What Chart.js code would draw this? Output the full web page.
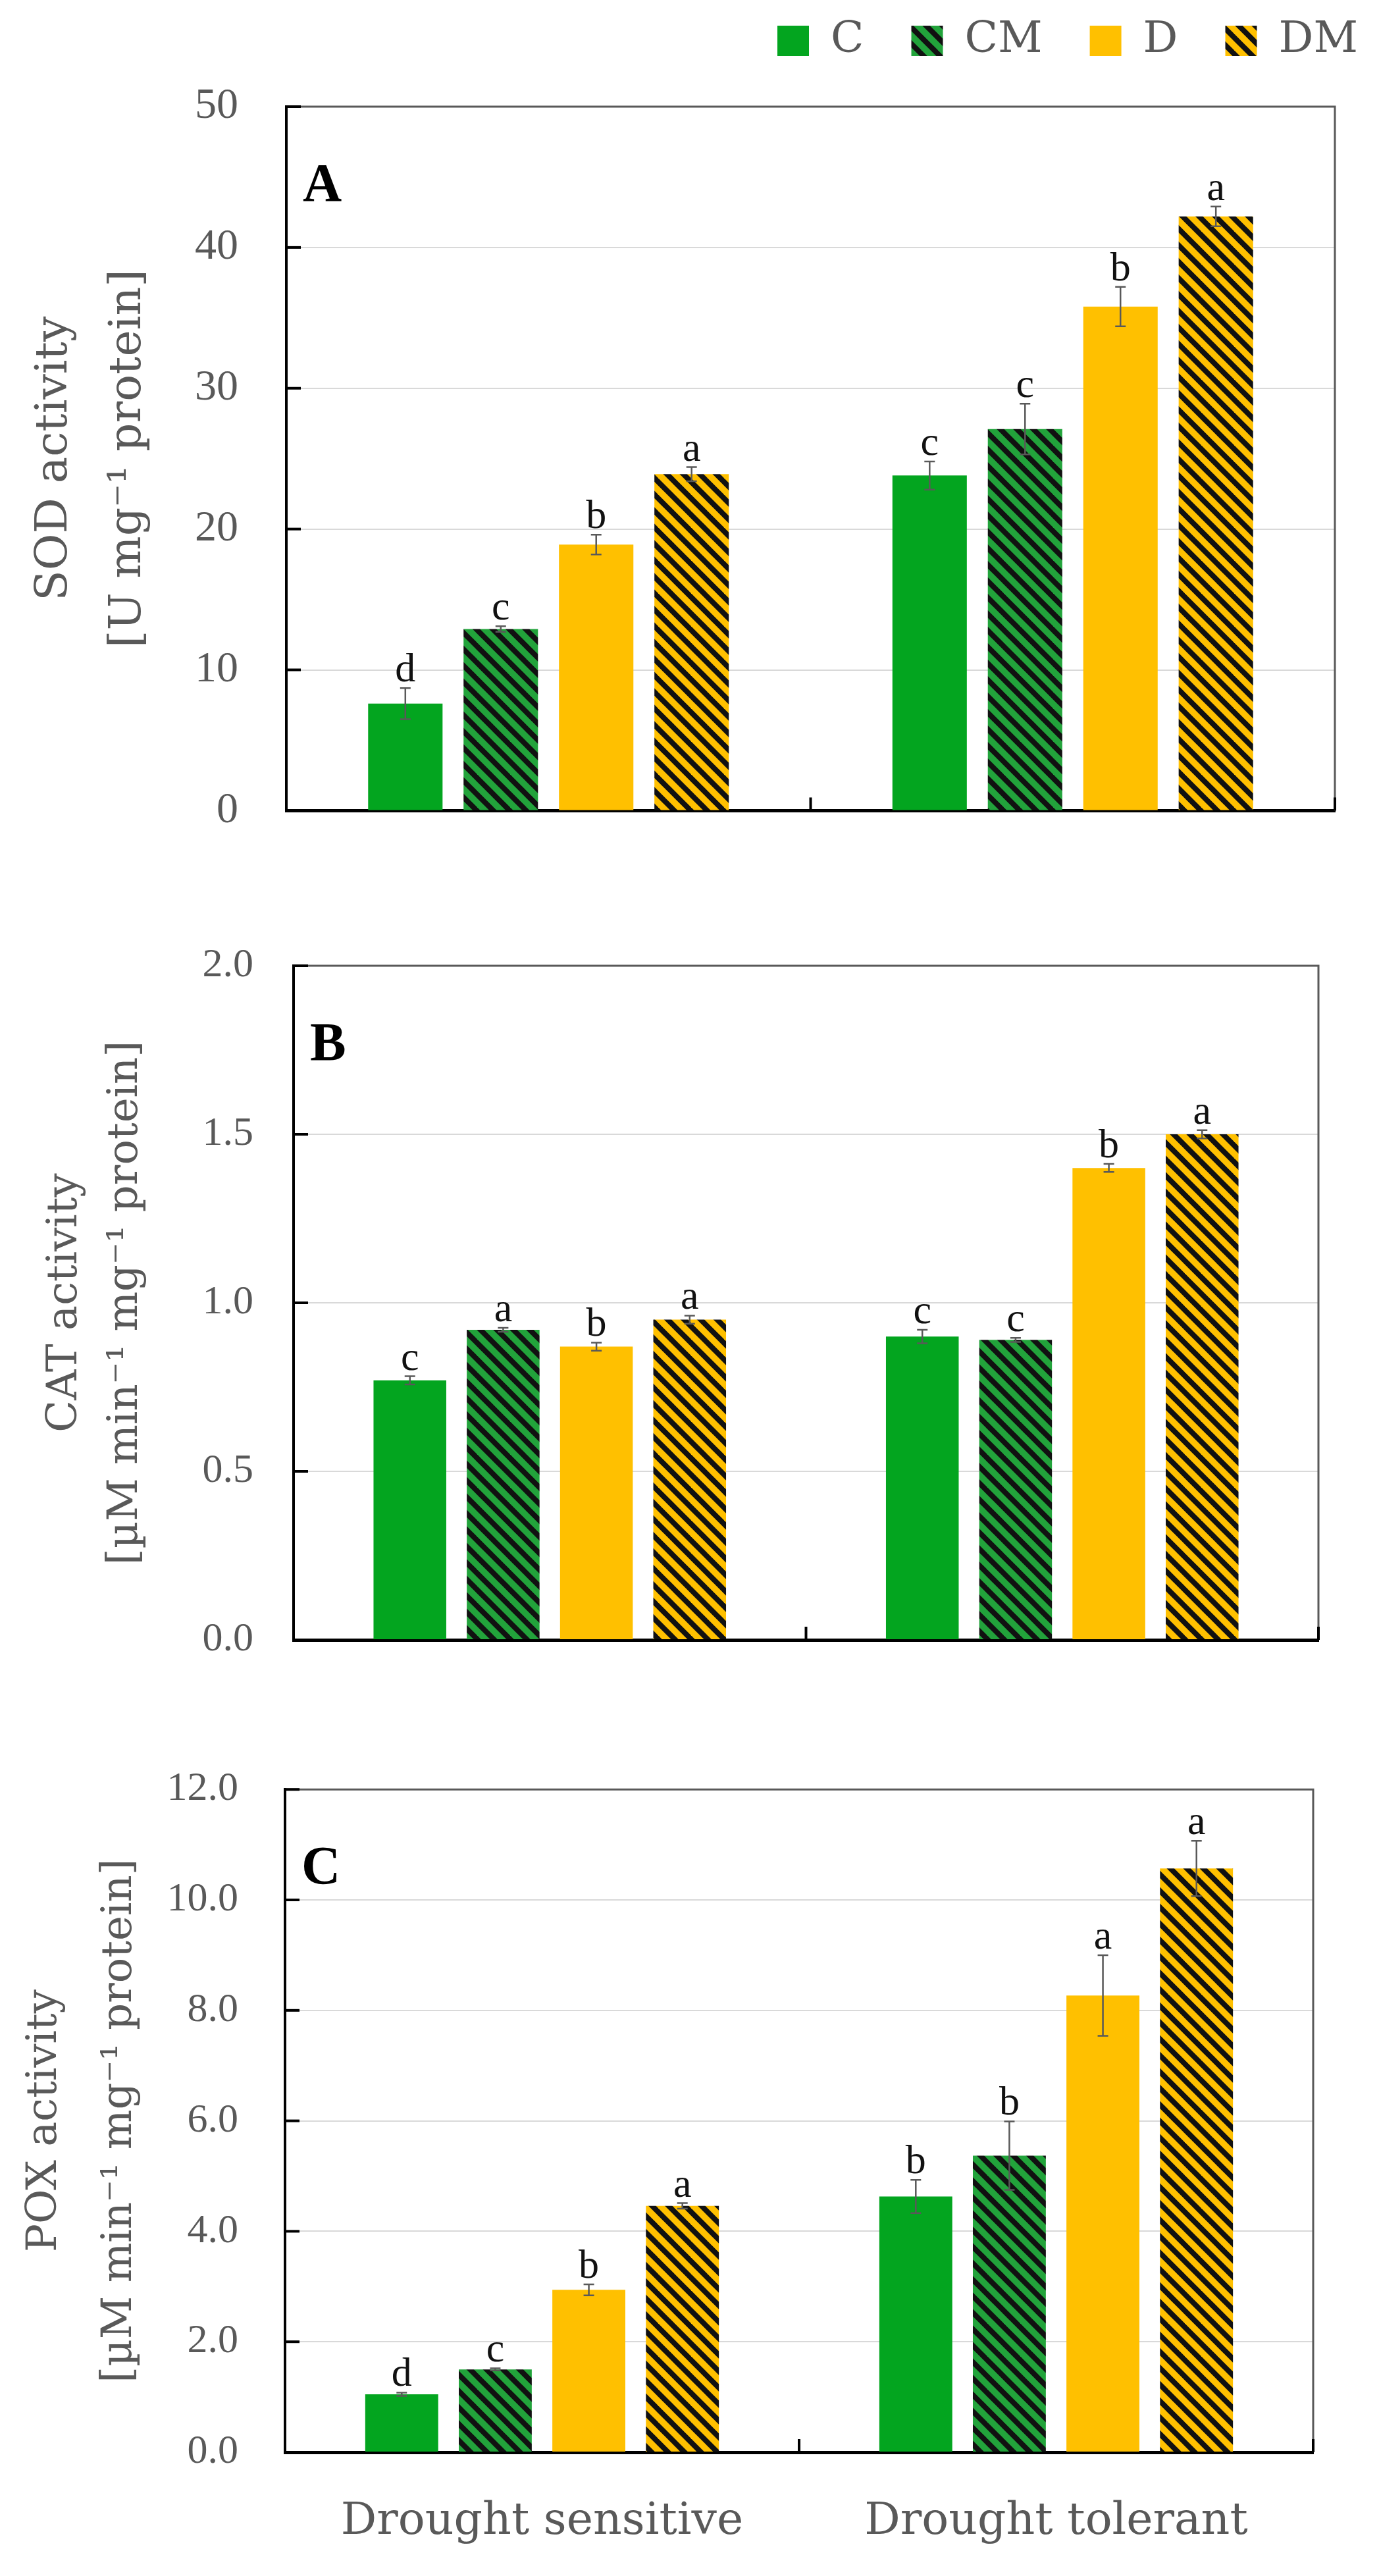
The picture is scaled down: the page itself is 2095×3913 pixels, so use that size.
<!DOCTYPE html>
<html>
<head>
<meta charset="utf-8">
<script src="https://cdn.jsdelivr.net/npm/chart.js@4.4.0/dist/chart.umd.min.js"></script>
<style>
html, body { margin: 0; padding: 0; background: #fff; overflow: hidden; }
#page { position: relative; width: 2095px; height: 3913px; overflow: hidden; background: #fff; }
canvas { position: absolute; left: 0; }
</style>
</head>
<body>
<div id="page">
  <canvas id="chartA" width="2135" height="1387" style="top:-43px"></canvas>
  <canvas id="chartB" width="2095" height="1350" style="top:1290px"></canvas>
  <canvas id="chartC" width="2095" height="1303" style="top:2610px"></canvas>
</div>
<script>
const groups = ['Drought sensitive', 'Drought tolerant'];
const treatments = ['C', 'CM', 'D', 'DM'];

// A - SOD activity
const sodC = [7.6, 23.8];
const sodCM = [12.9, 27.1];
const sodD = [18.9, 35.8];
const sodDM = [23.9, 42.2];
const sodErrC = [1.1, 1.0];
const sodErrCM = [0.2, 1.8];
const sodErrD = [0.7, 1.4];
const sodErrDM = [0.5, 0.7];
const sodLetC = ['d', 'c'];
const sodLetCM = ['c', 'c'];
const sodLetD = ['b', 'b'];
const sodLetDM = ['a', 'a'];
const sodTicks = ['0', '10', '20', '30', '40', '50'];

// B - CAT activity
const catC = [0.77, 0.90];
const catCM = [0.92, 0.89];
const catD = [0.87, 1.40];
const catDM = [0.95, 1.50];
const catErrC = [0.012, 0.02];
const catErrCM = [0.006, 0.006];
const catErrD = [0.012, 0.012];
const catErrDM = [0.012, 0.012];
const catLetC = ['c', 'c'];
const catLetCM = ['a', 'c'];
const catLetD = ['b', 'b'];
const catLetDM = ['a', 'a'];
const catTicks = ['0.0', '0.5', '1.0', '1.5', '2.0'];

// C - POX activity
const poxC = [1.05, 4.63];
const poxCM = [1.50, 5.37];
const poxD = [2.94, 8.27];
const poxDM = [4.46, 10.57];
const poxErrC = [0.03, 0.3];
const poxErrCM = [0.02, 0.62];
const poxErrD = [0.1, 0.73];
const poxErrDM = [0.05, 0.5];
const poxLetC = ['d', 'b'];
const poxLetCM = ['c', 'b'];
const poxLetD = ['b', 'a'];
const poxLetDM = ['a', 'a'];
const poxTicks = ['0.0', '2.0', '4.0', '6.0', '8.0', '10.0', '12.0'];

function makeStripes(base) {
    const tile = document.createElement('canvas');
    tile.width = 25;
    tile.height = 25;
    const t = tile.getContext('2d');
    t.fillStyle = base;
    t.fillRect(0, 0, 25, 25);
    t.strokeStyle = '#111';
    t.lineWidth = 8;
    for (let k = -1; k <= 1; k++) {
        t.beginPath();
        t.moveTo(k * 25 - 3, -3);
        t.lineTo(k * 25 + 28, 28);
        t.stroke();
    }
    return t.createPattern(tile, 'repeat');
}

const fills = ['#03A51F', makeStripes('#22A33B'), '#FFC000', makeStripes('#FFC000')];

// error bars, letters, panel letter, frame and inner ticks
const marks = {
    id: 'marks',
    afterDatasetsDraw(chart, args, opts) {
        const ctx = chart.ctx;
        const y = chart.scales.y;
        ctx.save();
        chart.data.datasets.forEach((ds, i) => {
            chart.getDatasetMeta(i).data.forEach((bar, j) => {
                const top = y.getPixelForValue(ds.data[j] + ds.err[j]);
                const bot = y.getPixelForValue(ds.data[j] - ds.err[j]);
                ctx.strokeStyle = '#595959';
                ctx.lineWidth = 2.5;
                ctx.beginPath();
                ctx.moveTo(bar.x, top);
                ctx.lineTo(bar.x, bot);
                ctx.moveTo(bar.x - 8, top);
                ctx.lineTo(bar.x + 8, top);
                ctx.moveTo(bar.x - 8, bot);
                ctx.lineTo(bar.x + 8, bot);
                ctx.stroke();
                ctx.fillStyle = '#111';
                ctx.font = '62px "Liberation Serif"';
                ctx.textAlign = 'center';
                ctx.textBaseline = 'alphabetic';
                ctx.fillText(ds.letters[j], bar.x, top - 10);
            });
        });
        ctx.restore();
    },
    afterDraw(chart, args, opts) {
        const ctx = chart.ctx;
        const a = chart.chartArea;
        const x = chart.scales.x;
        const y = chart.scales.y;
        ctx.save();
        ctx.strokeStyle = '#595959';
        ctx.lineWidth = 3;
        ctx.beginPath();
        ctx.moveTo(a.left, a.top);
        ctx.lineTo(a.right, a.top);
        ctx.lineTo(a.right, a.bottom);
        ctx.stroke();
        ctx.strokeStyle = '#000';
        ctx.lineWidth = 4;
        y.ticks.forEach(t => {
            const py = y.getPixelForValue(t.value);
            ctx.beginPath();
            ctx.moveTo(a.left, py);
            ctx.lineTo(a.left + 22, py);
            ctx.stroke();
        });
        [0.5, 1.5].forEach(v => {
            const px = x.getPixelForValue(v);
            ctx.beginPath();
            ctx.moveTo(px, a.bottom);
            ctx.lineTo(px, a.bottom - 20);
            ctx.stroke();
        });
        ctx.fillStyle = '#000';
        ctx.font = 'bold 82px "Liberation Serif"';
        ctx.textAlign = 'left';
        ctx.textBaseline = 'alphabetic';
        ctx.fillText(opts.panel, a.left + 25, a.top + 143);
        ctx.restore();
    }
};

// push the plot area down below the legend row
const legendGap = {
    id: 'legendGap',
    beforeInit(chart) {
        if (!chart.legend) return;
        const fit = chart.legend.fit;
        chart.legend.fit = function () {
            fit.bind(chart.legend)();
            this.height += 57;
        };
    }
};

function buildChart(id, vals, errs, lets, cfg) {
    const ctx = document.getElementById(id);
    const datasets = treatments.map((name, i) => ({
        label: name,
        data: vals[i],
        err: errs[i],
        letters: lets[i],
        backgroundColor: fills[i],
        borderWidth: 0,
        categoryPercentage: 0.728,
        barPercentage: 0.78
    }));
    const scales = {
        x: {
            grid: { display: false, drawTicks: false },
            border: { color: '#000', width: 5 },
            ticks: {
                display: cfg.showX,
                color: '#595959',
                font: { family: 'DejaVu Serif', size: 68 },
                padding: 66
            },
            afterFit: s => { s.height = cfg.xHeight; }
        },
        y: {
            min: cfg.min,
            max: cfg.max,
            ticks: {
                stepSize: cfg.step,
                color: '#595959',
                font: { family: 'Liberation Serif', size: cfg.tickSize },
                padding: cfg.tickPad,
                callback: (v, i) => cfg.tickLabels[i]
            },
            grid: { color: '#D9D9D9', lineWidth: 2, drawTicks: false },
            border: { color: '#000', width: 4 },
            title: {
                display: true,
                text: cfg.title,
                color: '#595959',
                font: { family: 'DejaVu Serif', size: cfg.titleSize, lineHeight: cfg.titleLh },
                padding: { top: cfg.titlePad, bottom: 0 }
            },
            afterFit: s => { s.width = cfg.yWidth; }
        }
    };
    if (cfg.rightWidth) {
        scales.yR = {
            type: 'linear',
            position: 'right',
            grid: { display: false },
            border: { display: false },
            ticks: { display: false },
            afterFit: s => { s.width = cfg.rightWidth; }
        };
    }
    new Chart(ctx, {
        type: 'bar',
        data: { labels: groups, datasets: datasets },
        options: {
            responsive: false,
            animation: false,
            devicePixelRatio: 1,
            layout: { padding: cfg.padding },
            scales: scales,
            plugins: {
                legend: {
                    display: cfg.legend,
                    position: 'top',
                    align: 'end',
                    labels: {
                        boxWidth: 48,
                        boxHeight: 46,
                        padding: 72,
                        color: '#595959',
                        font: { family: 'DejaVu Serif', size: 66 }
                    }
                },
                tooltip: { enabled: false },
                marks: { panel: cfg.panel }
            }
        },
        plugins: cfg.legend ? [legendGap, marks] : [marks]
    });
}

buildChart('chartA',
    [sodC, sodCM, sodD, sodDM],
    [sodErrC, sodErrCM, sodErrD, sodErrDM],
    [sodLetC, sodLetCM, sodLetD, sodLetDM],
    {
        panel: 'A', legend: true, showX: false, xHeight: 10,
        min: 0, max: 50, step: 10, tickLabels: sodTicks, tickSize: 66, tickPad: 73,
        title: ['SOD activity', '[U mg\u207B\u00B9 protein]'], titleSize: 68, titleLh: 1.65, titlePad: 27,
        yWidth: 435, rightWidth: 107,
        padding: { top: 0, right: 0, bottom: 49, left: 0 }
    });

buildChart('chartB',
    [catC, catCM, catD, catDM],
    [catErrC, catErrCM, catErrD, catErrDM],
    [catLetC, catLetCM, catLetD, catLetDM],
    {
        panel: 'B', legend: false, showX: false, xHeight: 10,
        min: 0, max: 2, step: 0.5, tickLabels: catTicks, tickSize: 62, tickPad: 61,
        title: ['CAT activity', '[\u00B5M min\u207B\u00B9 mg\u207B\u00B9 protein]'], titleSize: 64, titleLh: 1.44, titlePad: 53,
        yWidth: 446,
        padding: { top: 177, right: 92, bottom: 139, left: 0 }
    });

buildChart('chartC',
    [poxC, poxCM, poxD, poxDM],
    [poxErrC, poxErrCM, poxErrD, poxErrDM],
    [poxLetC, poxLetCM, poxLetD, poxLetDM],
    {
        panel: 'C', legend: false, showX: true, xHeight: 150,
        min: 0, max: 12, step: 2, tickLabels: poxTicks, tickSize: 62, tickPad: 71,
        title: ['POX activity', '[\u00B5M min\u207B\u00B9 mg\u207B\u00B9 protein]'], titleSize: 64, titleLh: 1.78, titlePad: 11,
        yWidth: 433,
        padding: { top: 108, right: 100, bottom: 38, left: 0 }
    });
</script>
</body>
</html>
